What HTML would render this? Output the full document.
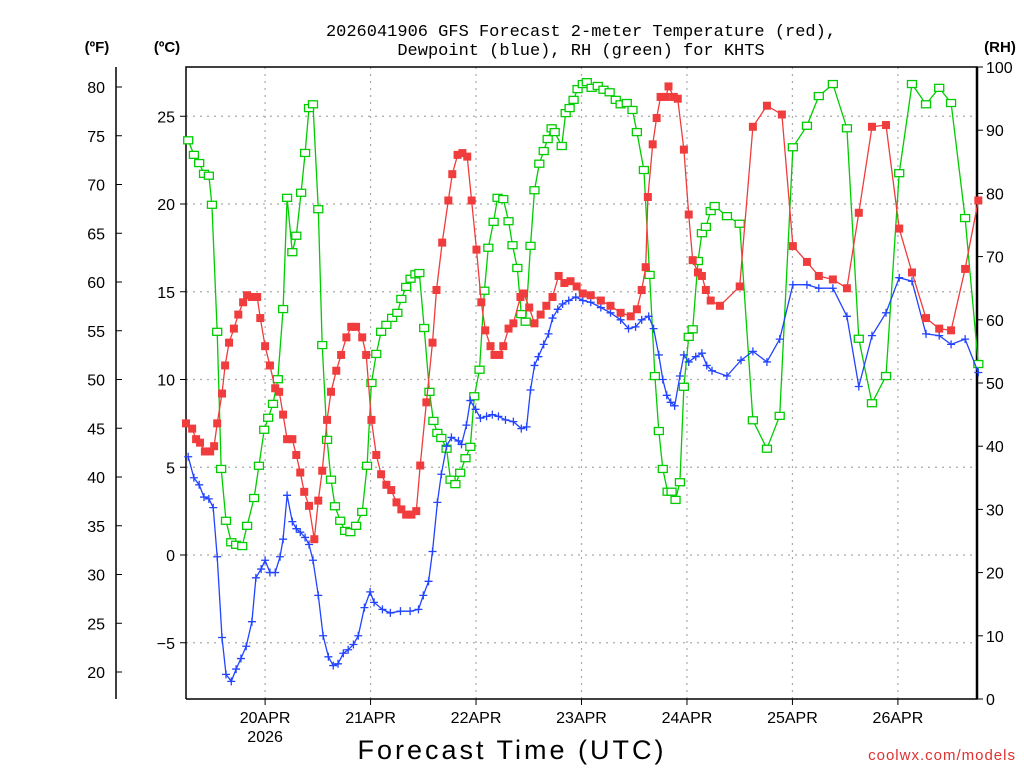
<!DOCTYPE html>
<html><head><meta charset="utf-8"><style>
body{margin:0;background:#fff;width:1024px;height:768px;overflow:hidden;font-family:"Liberation Sans",sans-serif}
svg text{font-family:"Liberation Sans",sans-serif}
</style></head><body>
<svg id="chart" width="1024" height="768" viewBox="0 0 1024 768" xmlns="http://www.w3.org/2000/svg">
<g id="grid"></g>
<g id="axes"></g>
<g id="series"></g>
<text x="581" y="36" font-size="17" text-anchor="middle" style="font-family:'Liberation Mono',monospace">2026041906 GFS Forecast 2-meter Temperature (red),</text>
<text x="581" y="55" font-size="17" text-anchor="middle" style="font-family:'Liberation Mono',monospace">Dewpoint (blue), RH (green) for KHTS</text>
<text x="97" y="52" font-size="15" font-weight="bold" text-anchor="middle">(ºF)</text>
<text x="167" y="52" font-size="15" font-weight="bold" text-anchor="middle">(ºC)</text>
<text x="1000" y="52" font-size="15" font-weight="bold" text-anchor="middle">(RH)</text>
<text x="512" y="759" font-size="27" text-anchor="middle" letter-spacing="3">Forecast Time (UTC)</text>
<text x="1016" y="760" font-size="15" fill="#e03030" text-anchor="end" letter-spacing="1">coolwx.com/models</text>
</svg>
<script>
const tempHours=[0,1.4,2.3,3.2,4.3,5.5,6.4,7.1,8.2,8.9,9.8,10.9,11.9,13,13.9,15,16.2,16.9,18,19.1,20.3,21.2,22.1,23,24.2,25.1,26,26.9,28,29.2,30.1,31,32.1,33,34.2,35.3,36.5,37.6,38.7,40.1,41,42.2,43.3,44.4,45.6,46.7,47.9,49,50.1,51.3,52.4,53.3,54.7,56.1,57,58.3,59.7,60.6,61.8,62.9,64,65,66.1,67.2,68.1,69.3,70.2,71.3,72.2,73.4,74.5,76.1,76.9,78.1,79.3,80.7,82,83.4,84.8,86.1,87.5,88.9,90.3,92.1,94.4,96.6,98.9,101.2,102.6,103.7,104.6,105.1,106.2,107.1,108,109.2,109.8,111,111.9,113.3,114.4,115.3,116.5,117.4,118.3,119.4,121.5,126,129,132.2,135.6,138.1,141.3,144,147.2,150.4,153.1,156.1,159.3,162.3,165.2,168.4,171.4,174.1,177.3,180.3];
const tempC=[7.5,7.2,6.6,6.4,5.9,5.9,6.2,7.5,9.2,10.8,12.1,12.9,13.7,14.4,14.8,14.7,14.7,13.5,11.9,10.8,9.5,9.3,8,6.6,6.6,5.7,4.7,3.6,2.8,0.9,3.1,4.8,7.7,9.3,10.5,11.4,12.4,13,13,12.4,11.4,7.7,5.7,4.6,4,3.7,3,2.6,2.3,2.3,2.5,5.1,8.7,12.1,15.1,17.8,20.2,21.7,22.8,22.9,22.7,20.2,17.4,14.4,12.8,11.9,11.4,11.4,11.9,12.9,13.2,14.7,14.9,14.1,13.2,13.7,14.2,14.7,15.9,15.5,15.6,15.3,14.9,14.8,14.5,14.2,13.8,13.6,14,15.1,16.4,20.4,23.4,24.9,26.1,26.1,26.7,26.1,26,23.1,19.4,16.8,16.1,15.9,15.1,14.5,14.2,15.3,24.4,25.6,25.1,17.6,16.7,15.9,15.7,15.2,19.5,24.4,24.5,18.6,16.1,13.5,12.9,12.8,16.3,20.2];
const dewHours=[0.5,1.8,3,4.1,5.2,6.2,7.1,8.2,9.1,10.3,11.4,12.5,13.7,15,15.9,17.1,18,19.1,20.3,21.4,22.1,23,24.2,25.1,26,27.1,28,28.9,30.1,31.2,32.4,33.5,34.6,35.8,36.9,38.1,39.2,40.6,41.9,42.8,44.7,46.5,48.8,51,52.9,54,55.2,56.1,57.2,58.1,59.3,60.4,62,62.7,63.8,64.7,65.9,67,68.4,69.7,71.1,72.7,74.5,76.3,77.5,78.4,79.3,80.2,81.4,82.5,83.4,84.6,85.7,87.1,88.7,90.3,92.1,94.4,96.6,98.9,100.7,102.3,103.7,105.3,106.4,107.6,108.5,109.4,110.3,111.2,112.4,113.3,114.4,116,117.4,118.5,119.7,123.1,126.3,129,132.2,135.1,138.1,141.3,144,147.2,150.4,153.1,156.1,159.3,162.3,165.2,168.4,171.4,174.1,177.3,180.3];
const dewC=[5.6,4.4,4,3.3,3.2,2.7,-0.1,-4.7,-6.8,-7.2,-6.5,-5.9,-5.2,-3.8,-1.3,-0.8,-0.3,-1,-1,-0.1,0.9,3.4,1.9,1.5,1.3,1,0.6,-0.3,-2.3,-4.6,-5.8,-6.3,-6.2,-5.6,-5.4,-5.1,-4.6,-3,-2.1,-2.7,-3.1,-3.3,-3.2,-3.2,-3.1,-2.3,-1.5,0.2,3,4.6,6.2,6.7,6.5,6.3,7.4,8.8,8.3,7.8,7.9,8,7.9,7.7,7.6,7.2,7.3,9.4,10.8,11.3,12,12.6,13.5,14,14.3,14.5,14.7,14.5,14.4,14.1,13.8,13.4,12.9,13,13.4,13.6,12.9,11.4,10,9.1,8.7,8.5,10.2,11.4,11,11.3,11.5,10.8,10.5,10.2,11.1,11.6,11,12.3,15.4,15.4,15.2,15.2,13.6,9.6,12.5,13.8,15.8,15.6,12.6,12.5,12,12.3,10.4];
const rhHours=[0.5,1.8,3,4.1,5.2,5.9,7.1,8,9.1,10.3,11.4,12.8,13.9,15.5,16.6,17.8,18.7,19.8,20.9,22.1,23,24.2,25.1,26.2,27.1,28,28.9,30.1,31,32.1,33,33.9,35.1,36.2,37.4,38.7,40.1,41.2,42.2,43.3,44.4,45.6,46.9,48.1,49,50.1,51.1,52.2,53.1,54.2,55.4,56.3,57.2,58.1,59.3,60.2,61.3,62.4,63.6,64.7,65.6,66.8,67.9,68.8,70,70.9,72.2,73.4,74.3,75.4,76.3,77.3,78.4,79.3,80.4,81.4,82.3,83.2,83.9,85.5,86.4,87.3,88.2,89.1,90.3,91.2,92.3,93.7,95,96.4,97.8,98.9,100.3,101.6,102.6,104.2,105.5,106.7,107.6,108.5,109.6,110.5,111.4,112.4,113.3,114.4,115.3,116.5,117.4,118.3,119.4,120.3,123.1,126,129,132.2,135.1,138.1,141.3,144,147.2,150.4,153.1,156.1,159.3,162.3,165.2,168.4,171.4,174.1,177.3,180.3];
const rhPct=[88.4,86.1,84.8,83.1,82.8,78.2,58.1,36.4,28.2,24.8,24.4,24.2,27.4,31.8,36.9,42.6,44.5,46.7,50.6,61.7,79.3,70.7,73.3,80.1,86.4,93.5,94.1,77.5,56,41,34.7,30.5,28.2,26.6,26.4,27.4,29.6,36.9,50,54.6,58.1,59.2,60.3,61.1,63.3,65.2,66.5,67.2,67.4,58.7,48.6,44,42.1,41.3,39.6,34.7,34,35.8,38.1,39.9,47.9,52.1,64.6,71.4,75.5,79.3,79.1,75.6,71.8,68.2,60.9,59.7,71.7,80.5,84.7,86.7,88.6,90.3,89.7,87.5,92.7,93.5,94.8,96.5,97.3,97.6,96.7,97,96.4,96,94.8,94.1,94.3,93.2,89.7,83.7,67.1,51.1,42.4,36.4,32.8,32.8,31.5,34.3,49.4,57.3,58.5,69.3,73.7,74.7,77.2,78,76.4,75.2,44.1,39.6,44.8,87.3,90.7,95.4,97.3,90.3,57,46.8,51.1,83.2,97.3,94.1,96.7,94.3,76.1,53];
const dayLabels=["20APR","21APR","22APR","23APR","24APR","25APR","26APR"];
const celsiusTicks=[25,20,15,10,5,0,-5];
const fahrenheitTicks=[80,75,70,65,60,55,50,45,40,35,30,25,20];
const rhTicks=[0,10,20,30,40,50,60,70,80,90,100];

const NS="http://www.w3.org/2000/svg";
const L=186,R=977,T=67,B=699;
const xH=h=>L+(h/180)*(R-L);
const yC=c=>555-c*17.55;
const yRH=r=>B-(r/100)*(B-T);
function mk(tag,attrs,parent){const e=document.createElementNS(NS,tag);for(const k in attrs)e.setAttribute(k,attrs[k]);parent.appendChild(e);return e;}
const grid=document.getElementById('grid'),axes=document.getElementById('axes'),ser=document.getElementById('series');

celsiusTicks.forEach(c=>{
  const y=yC(c);
  const g=mk('line',{x1:L,x2:R,y1:y,y2:y,stroke:'#aaa','stroke-dasharray':'2,5','stroke-width':1.2},grid);
  
  
  const t=mk('line',{x1:L-6,x2:L,y1:y,y2:y,stroke:'#000'},axes);
  
  
  const tx=mk('text',{x:175,y:y+6,'font-size':16,'text-anchor':'end'},axes);
  tx.textContent=c<0?'\u2212'+(-c):String(c);
  
  
});
dayLabels.forEach((d,i)=>{
  const x=xH(18+24*i);
  const g=mk('line',{x1:x,x2:x,y1:T,y2:B,stroke:'#aaa','stroke-dasharray':'2,5','stroke-width':1.2},grid);
  
  
  const t=mk('line',{x1:x,x2:x,y1:B,y2:B+6,stroke:'#000'},axes);
  
  
  const tx=mk('text',{x:x,y:723,'font-size':16,'text-anchor':'middle'},axes);
  tx.textContent=d;
  
  
});
const yr=mk('text',{x:xH(18),y:742,'font-size':16,'text-anchor':'middle'},axes);
yr.textContent='2026';



fahrenheitTicks.forEach(f=>{
  const y=yC((f-32)/1.8);
  const t=mk('line',{x1:116,x2:122,y1:y,y2:y,stroke:'#000'},axes);
  
  
  const tx=mk('text',{x:105,y:y+6,'font-size':16,'text-anchor':'end'},axes);
  tx.textContent=String(f);
  
  
});
rhTicks.forEach(r=>{
  const y=yRH(r);
  const t=mk('line',{x1:R,x2:R+6,y1:y,y2:y,stroke:'#000'},axes);
  
  
  const tx=mk('text',{x:986,y:y+6,'font-size':16,'text-anchor':'start'},axes);
  tx.textContent=String(r);
  
  
});
const fAxis=mk('line',{x1:116,x2:116,y1:T,y2:B,stroke:'#000','stroke-width':1.5},axes);


const frame=mk('path',{d:`M${L},${B} L${L},${T} L${R},${T} L${R},${B} L${L},${B}`,fill:'none',stroke:'#000','stroke-width':1.5},axes);


const rAxis=mk('line',{x1:R,x2:R,y1:T,y2:B,stroke:'#000','stroke-width':2.5},axes);



function drawSeries(hours,vals,yf,color,name,marker){
  const g=mk('g',{},ser);
  
  
  const pts=hours.map((h,i)=>xH(h).toFixed(1)+','+yf(vals[i]).toFixed(1)).join(' ');
  const pl=mk('polyline',{points:pts,fill:'none',stroke:color,'stroke-width':1.3},g);
  
  
  hours.forEach((h,i)=>{
    const x=xH(h),y=yf(vals[i]);let m;
    if(marker==='fill'){m=mk('rect',{x:x-4,y:y-4,width:8,height:8,fill:color},g);}
    else if(marker==='open'){m=mk('rect',{x:x-4.5,y:y-3.5,width:9,height:7,fill:'#fff',stroke:color,'stroke-width':1.3},g);}
    else{m=mk('path',{d:`M${x-4},${y}H${x+4}M${x},${y-4}V${y+4}`,stroke:color,'stroke-width':1.3},g);}
    
    
  });
}
drawSeries(rhHours,rhPct,yRH,'#00cc00','rh','open');
drawSeries(dewHours,dewC,yC,'#2244ff','dewpoint','plus');
drawSeries(tempHours,tempC,yC,'#f03c3c','temperature','fill');
</script>
</body></html>
